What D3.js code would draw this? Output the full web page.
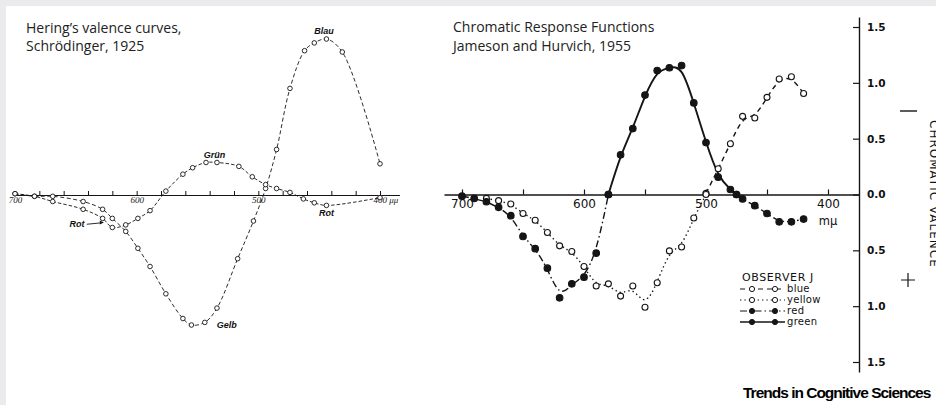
<!DOCTYPE html>
<html>
<head>
<meta charset="utf-8">
<script src="https://cdn.jsdelivr.net/npm/d3@7"></script>
<style>
  body { margin: 0; background: #ebebed; overflow: hidden; }
  svg { display: block; }
  .title { font-family: "Open Sans", sans-serif; font-size: 14px; fill: #222; }
  .lab { font-family: "Liberation Sans", sans-serif; font-style: italic; font-weight: bold; font-size: 9px; fill: #111; }
  .ltick text { font-family: "Liberation Serif", serif; font-style: italic; font-size: 9px; fill: #222; }
  .rtick text { font-family: "DejaVu Sans", sans-serif; font-size: 12px; fill: #111; }
  .ytick text { font-family: "DejaVu Sans", sans-serif; font-weight: bold; font-size: 10.5px; fill: #111; }
  .leg { font-family: "DejaVu Sans", sans-serif; font-size: 10px; fill: #111; }
</style>
</head>
<body>
<div id="chart"></div>
<script>
// Left: Schrödinger 1925, Hering valence curves (arbitrary units)
var gelbBlauNm  = [700, 684, 669, 644, 628, 620, 609, 599, 589, 576, 562, 555, 544, 534, 517, 504, 494, 485, 474, 462, 454, 444, 431, 400];
var gelbBlauVal = [0.01, -0.01, -0.01, -0.05, -0.11, -0.18, -0.28, -0.41, -0.55, -0.76, -0.95, -1.0, -0.98, -0.87, -0.49, -0.2, 0.05, 0.35, 0.82, 1.11, 1.17, 1.2, 1.1, 0.24];
var rotGruenNm  = [700, 684, 669, 644, 628, 620, 609, 599, 589, 576, 562, 554, 543, 534, 516, 505, 494, 485, 474, 463, 454, 444, 400];
var rotGruenVal = [0.01, -0.01, -0.05, -0.11, -0.18, -0.25, -0.23, -0.18, -0.12, 0.03, 0.16, 0.21, 0.25, 0.25, 0.22, 0.14, 0.08, 0.05, 0.02, -0.03, -0.06, -0.08, -0.02];

// Right: Jameson & Hurvich 1955, observer J
var blueNm    = [500, 490, 480, 470, 460, 450, 440, 430, 420];
var blueVal   = [0.01, 0.23, 0.455, 0.70, 0.685, 0.87, 1.035, 1.055, 0.905];
var yellowNm  = [680, 670, 660, 650, 640, 630, 620, 610, 600, 590, 580, 570, 560, 550, 540, 530, 520, 510, 500];
var yellowVal = [-0.035, -0.055, -0.085, -0.17, -0.23, -0.34, -0.46, -0.51, -0.645, -0.82, -0.80, -0.91, -0.82, -1.01, -0.79, -0.505, -0.47, -0.21, 0.0];
var redLongNm   = [700, 690, 680, 670, 660, 650, 640, 630, 620, 610, 600, 590, 580];
var redLongVal  = [-0.015, -0.035, -0.065, -0.115, -0.19, -0.375, -0.485, -0.66, -0.925, -0.80, -0.74, -0.525, 0.0];
var redShortNm  = [475, 470, 460, 450, 440, 430, 420];
var redShortVal = [0.0, -0.04, -0.10, -0.17, -0.245, -0.245, -0.22];
var greenNm   = [580, 570, 560, 550, 540, 530, 520, 510, 500, 490, 480, 475];
var greenVal  = [0.0, 0.355, 0.59, 0.89, 1.11, 1.135, 1.155, 0.82, 0.465, 0.155, 0.045, 0.0];

var leftTicks = d3.range(700, 399, -20);
var rightTicks = [700, 650, 600, 550, 500, 450, 400];
var valenceTicks = [-1.5, -1.0, -0.5, 0, 0.5, 1.0, 1.5];
var legendNames = ["blue", "yellow", "red", "green"];

var width = 936, height = 405;
var ink = "#151515";

var svg = d3.select("#chart").append("svg")
    .attr("width", width)
    .attr("height", height);

svg.append("rect")
    .attr("x", 6).attr("y", 6)
    .attr("width", width - 6).attr("height", height - 6)
    .attr("fill", "#fff");

function zip(xs, ys) { return xs.map(function(x, i) { return [x, ys[i]]; }); }

// ---------- left panel ----------
var xL = d3.scaleLinear().domain([700, 400]).range([15, 380]);
var yL = d3.scaleLinear().domain([0, 1]).range([195, 65]);

var left = svg.append("g");

left.append("text").attr("class", "title").attr("x", 26).attr("y", 33).text("Hering\u2019s valence curves,");
left.append("text").attr("class", "title").attr("x", 26).attr("y", 51).text("Schrödinger, 1925");

var axL = xL.copy().domain([701, 384]).range([xL(701), xL(384)]);
left.append("g")
    .attr("class", "ltick")
    .attr("transform", "translate(0," + yL(0) + ")")
    .call(d3.axisBottom(axL).tickValues(leftTicks).tickSizeInner(-4).tickSizeOuter(0).tickPadding(2)
      .tickFormat(function(d) { return d % 100 === 0 ? (d === 400 ? "400 \u03bc\u03bc" : d) : ""; }))
    .call(function(g) {
      g.select(".domain").attr("stroke", ink).attr("stroke-width", 1.2);
      g.selectAll(".tick line").attr("stroke", ink);
      g.selectAll(".tick text").filter(function(d) { return d === 400; }).attr("text-anchor", "start").attr("dx", -7);
    });

var lineL = d3.line()
    .x(function(d) { return xL(d[0]); })
    .y(function(d) { return yL(d[1]); })
    .curve(d3.curveCatmullRom);

[zip(gelbBlauNm, gelbBlauVal), zip(rotGruenNm, rotGruenVal)].forEach(function(data, i) {
  left.append("path")
      .datum(data)
      .attr("d", lineL)
      .attr("fill", "none")
      .attr("stroke", ink)
      .attr("stroke-width", 0.9)
      .attr("stroke-dasharray", i === 0 ? "4,2.5" : "3.5,2");
  left.selectAll(null)
      .data(data)
    .enter().append("circle")
      .attr("cx", function(d) { return xL(d[0]); })
      .attr("cy", function(d) { return yL(d[1]); })
      .attr("r", 2.3)
      .attr("fill", "#fff")
      .attr("stroke", ink)
      .attr("stroke-width", 0.9);
});

left.append("text").attr("class", "lab").attr("x", xL(446)).attr("y", yL(1.24)).attr("text-anchor", "middle").text("Blau");
left.append("text").attr("class", "lab").attr("x", xL(536)).attr("y", yL(0.285)).attr("text-anchor", "middle").text("Grün");
left.append("text").attr("class", "lab").attr("x", xL(444)).attr("y", yL(-0.165)).attr("text-anchor", "middle").text("Rot");
left.append("text").attr("class", "lab").attr("x", xL(526)).attr("y", yL(-1.02)).attr("text-anchor", "middle").text("Gelb");
left.append("text").attr("class", "lab").attr("x", xL(649)).attr("y", yL(-0.245)).attr("text-anchor", "middle").text("Rot");
left.append("line")
    .attr("x1", xL(641)).attr("y1", yL(-0.225))
    .attr("x2", xL(630)).attr("y2", yL(-0.215))
    .attr("stroke", ink).attr("stroke-width", 0.9);
left.append("path")
    .attr("d", "M" + xL(627) + "," + yL(-0.212) + "l-4,-2l0,4z")
    .attr("fill", ink);

// ---------- right panel ----------
var xR = d3.scaleLinear().domain([700, 400]).range([462, 828]);
var yR = d3.scaleLinear().domain([-1.5, 1.5]).range([362, 27]);

var right = svg.append("g");

right.append("text").attr("class", "title").attr("x", 453).attr("y", 32).text("Chromatic Response Functions");
right.append("text").attr("class", "title").attr("x", 453).attr("y", 51).text("Jameson and Hurvich, 1955");

var axX = xR.copy().domain([xR.invert(444), xR.invert(859)]).range([444, 859]);
right.append("g")
    .attr("class", "rtick")
    .attr("transform", "translate(0," + yR(0) + ")")
    .call(d3.axisBottom(axX).tickValues(rightTicks).tickSizeInner(-5).tickSizeOuter(0).tickPadding(5)
      .tickFormat(function(d) { return d % 100 === 0 ? d : ""; }))
    .call(function(g) {
      g.select(".domain").attr("stroke", ink).attr("stroke-width", 1.4);
      g.selectAll(".tick line").attr("stroke", ink).attr("stroke-width", 1.2);
    });
right.append("text").attr("class", "leg").attr("x", xR(400)).attr("y", yR(-0.27)).attr("text-anchor", "middle")
    .style("font-size", "11.5px").text("m\u03bc");

var axY = yR.copy().domain([yR.invert(372), yR.invert(17)]).range([372, 17]);
right.append("g")
    .attr("class", "ytick")
    .attr("transform", "translate(859,0)")
    .call(d3.axisRight(axY).tickValues(valenceTicks).tickSizeInner(-6).tickSizeOuter(0).tickPadding(8)
      .tickFormat(function(d) { return Math.abs(d).toFixed(1); }))
    .call(function(g) {
      g.select(".domain").attr("stroke", ink).attr("stroke-width", 1.4);
      g.selectAll(".tick line").attr("stroke", ink).attr("stroke-width", 1.2);
    });

var lineR = d3.line()
    .x(function(d) { return xR(d[0]); })
    .y(function(d) { return yR(d[1]); })
    .curve(d3.curveBasis);

var styles = {
  blue:   { dash: "5,4",       width: 1.4, fill: "#fff" },
  yellow: { dash: "1.4,3",     width: 1.4, fill: "#fff" },
  red:    { dash: "7,3,1.5,3", width: 1.4, fill: ink },
  green:  { dash: null,        width: 1.9, fill: ink }
};

var curves = [
  { name: "blue",   data: zip(blueNm, blueVal) },
  { name: "yellow", data: zip(yellowNm, yellowVal) },
  { name: "red",    data: zip(redLongNm, redLongVal) },
  { name: "red",    data: zip(redShortNm, redShortVal) },
  { name: "green",  data: zip(greenNm, greenVal) }
];

curves.forEach(function(c) {
  var s = styles[c.name];
  right.append("path")
      .datum(c.data)
      .attr("d", lineR)
      .attr("fill", "none")
      .attr("stroke", ink)
      .attr("stroke-width", s.width)
      .attr("stroke-dasharray", s.dash);
});
curves.forEach(function(c) {
  var s = styles[c.name];
  right.selectAll(null)
      .data(c.data)
    .enter().append("circle")
      .attr("cx", function(d) { return xR(d[0]); })
      .attr("cy", function(d) { return yR(d[1]); })
      .attr("r", s.fill === "#fff" ? 3 : 3.3)
      .attr("fill", s.fill)
      .attr("stroke", ink)
      .attr("stroke-width", 1.1);
});

// legend
var legend = right.append("g").attr("transform", "translate(740,281)");
legend.append("text").attr("class", "leg").attr("x", 2).attr("y", 0)
    .style("font-size", "11px").attr("letter-spacing", 0.6).text("OBSERVER  J");
var rows = legend.selectAll(".row")
    .data(legendNames)
  .enter().append("g")
    .attr("transform", function(d, i) { return "translate(0," + (8 + i * 11) + ")"; });
rows.append("line")
    .attr("x1", 0).attr("x2", 45)
    .attr("stroke", ink)
    .attr("stroke-width", function(d) { return styles[d].width * 0.8; })
    .attr("stroke-dasharray", function(d) { return styles[d].dash; });
rows.selectAll("circle")
    .data(function(d) { return [d, d]; })
  .enter().append("circle")
    .attr("cx", function(d, i) { return i ? 35 : 12; })
    .attr("r", 2.6)
    .attr("fill", function(d) { return styles[d].fill; })
    .attr("stroke", ink);
rows.append("text")
    .attr("class", "leg")
    .attr("x", 47).attr("dy", "0.32em")
    .attr("letter-spacing", 0.3)
    .text(function(d) { return d; });

// sign marks and axis title, cut off by the page edge as in the source
right.append("line").attr("x1", 900).attr("x2", 917).attr("y1", 111).attr("y2", 111)
    .attr("stroke", ink).attr("stroke-width", 1.4);
right.append("path").attr("d", "M901,280h14M908,273v14")
    .attr("stroke", ink).attr("stroke-width", 1.2);
right.append("text")
    .attr("transform", "translate(930,120) rotate(90)")
    .attr("font-family", "DejaVu Sans, sans-serif")
    .attr("font-size", 12)
    .attr("letter-spacing", 1)
    .attr("fill", ink)
    .text("CHROMATIC   VALENCE");

svg.append("text")
    .attr("x", 743).attr("y", 398)
    .attr("font-family", "Liberation Sans, sans-serif")
    .attr("font-weight", "bold")
    .attr("font-size", 15.5)
    .attr("letter-spacing", -1)
    .attr("fill", "#000")
    .text("Trends in Cognitive Sciences");
</script>
</body>
</html>
